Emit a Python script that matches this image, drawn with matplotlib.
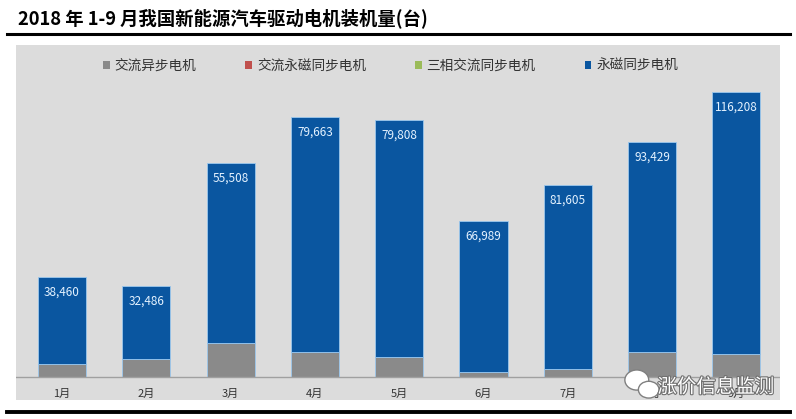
import matplotlib.pyplot as plt
import matplotlib.patheffects as pe
from matplotlib.patches import Patch, Ellipse

plt.rcParams['font.family'] = ['Noto Sans CJK SC', 'DejaVu Sans']

# ── data (heights, labels as printed) ──────────────────────────────────────────
MONTHS = ["1月", "2月", "3月", "4月", "5月", "6月", "7月", "8月", "9月"]
ASYNC_AC = [5800, 8000, 15100, 11100, 8900, 2200, 3600, 11100, 10200]   # 交流异步电机
AC_PM = [0, 0, 0, 0, 0, 0, 0, 0, 0]                                      # 交流永磁同步电机
THREE_PHASE = [0, 0, 0, 0, 0, 0, 0, 0, 0]                                # 三相交流同步电机
PM_SYNC = [38460, 32486, 79900, 104300, 105200, 66989, 81605, 93429, 116208]  # 永磁同步电机
PM_LABELS = ["38,460", "32,486", "55,508", "79,663", "79,808",
             "66,989", "81,605", "93,429", "116,208"]

SERIES = ["交流异步电机", "交流永磁同步电机", "三相交流同步电机", "永磁同步电机"]
COLORS = ["#8a8a8a", "#c0504d", "#9bbb59", "#0a56a0"]

PANEL_BG = "#dcdcdc"
TEXT_CLR = "#333333"

# ── figure ─────────────────────────────────────────────────────────────────────
fig = plt.figure(figsize=(7.96, 4.19), dpi=100, facecolor="white")

fig.text(0.022, 0.957, "2018 年 1-9 月我国新能源汽车驱动电机装机量(台)",
         fontsize=13.2, fontweight="bold", color="black", va="center", ha="left")
fig.add_artist(plt.Line2D([0.009, 0.992], [0.919, 0.919], color="black", lw=2.2))
fig.add_artist(plt.Line2D([0.009, 0.992], [0.016, 0.016], color="black", lw=2.8))

ax = fig.add_axes([0.0201, 0.0453, 0.9598, 0.8473])
ax.set_facecolor(PANEL_BG)
for sp in ax.spines.values():
    sp.set_visible(False)
ax.set_xticks([])
ax.set_yticks([])

x = list(range(len(MONTHS)))
w = 0.57
bottom = [0] * len(MONTHS)
for vals, col, name in zip([ASYNC_AC, AC_PM, THREE_PHASE, PM_SYNC], COLORS, SERIES):
    ax.bar(x, vals, w, bottom=bottom, color=col, edgecolor="#9cc8ee",
           linewidth=0.6, label=name, zorder=3)
    bottom = [b + v for b, v in zip(bottom, vals)]

# value labels inside blue bars
for xi, top, lbl in zip(x, bottom, PM_LABELS):
    ax.text(xi, top - 6700, lbl, ha="center", va="center",
            fontsize=8.5, color="#e4f2ff", zorder=4)

ax.axhline(0, color="#a0a0a0", lw=1, zorder=4)
for xi, m in zip(x, MONTHS):
    ax.text(xi, -7600, m, ha="center", va="center", fontsize=8, color=TEXT_CLR)

ax.set_xlim(-0.546, 8.517)
ax.set_ylim(-10200, 147400)

handles = [Patch(facecolor=c, edgecolor="none") for c in COLORS]
ax.legend(handles, SERIES, loc="upper left", bbox_to_anchor=(0.098, 0.995),
          ncol=4, frameon=False, fontsize=9.8, handlelength=0.5, handleheight=0.5,
          handletextpad=0.35, columnspacing=3.6, labelcolor=TEXT_CLR)

# watermark (WeChat-style bubbles + account name)
fig.add_artist(Ellipse((0.800, 0.093), 0.030, 0.048, transform=fig.transFigure,
                       facecolor="white", edgecolor="#808080", lw=1, zorder=5))
fig.add_artist(Ellipse((0.815, 0.070), 0.026, 0.040, transform=fig.transFigure,
                       facecolor="white", edgecolor="#808080", lw=1, zorder=6))
fig.text(0.826, 0.076, "涨价信息监测", fontsize=14, color="white",
         ha="left", va="center", zorder=7,
         path_effects=[pe.withStroke(linewidth=1.6, foreground="#707070")])

fig.savefig("out.png", dpi=100, facecolor="white")
